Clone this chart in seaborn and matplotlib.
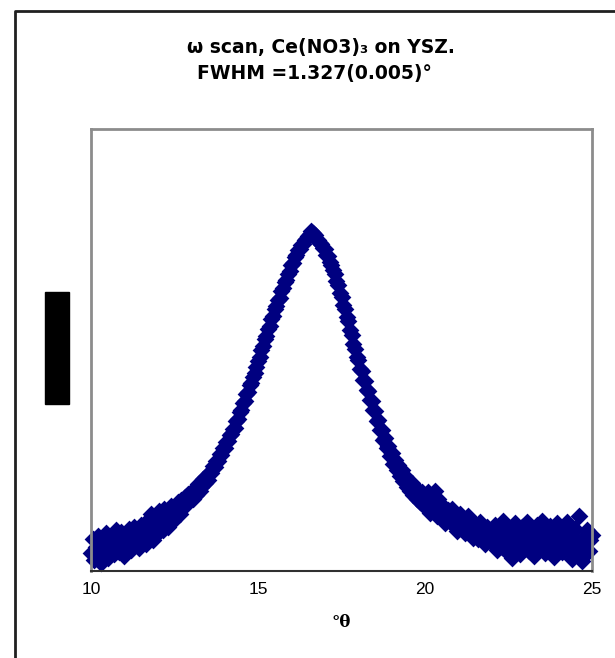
import matplotlib
matplotlib.use("Agg")
import matplotlib.pyplot as plt
import seaborn as sns
from matplotlib.patches import Rectangle
from matplotlib.lines import Line2D

# ---------------------- data ----------------------
theta = [
    10.00, 10.05, 10.10, 10.15, 10.20, 10.25, 10.30, 10.35, 10.40, 10.45,
    10.50, 10.55, 10.60, 10.65, 10.70, 10.75, 10.80, 10.85, 10.90, 10.95,
    11.00, 11.05, 11.10, 11.15, 11.20, 11.25, 11.30, 11.35, 11.40, 11.45,
    11.50, 11.55, 11.60, 11.65, 11.70, 11.75, 11.80, 11.85, 11.90, 11.95,
    12.00, 12.05, 12.10, 12.15, 12.20, 12.25, 12.30, 12.35, 12.40, 12.45,
    12.50, 12.55, 12.60, 12.65, 12.70, 12.75, 12.80, 12.85, 12.90, 12.95,
    13.00, 13.05, 13.10, 13.15, 13.20, 13.25, 13.30, 13.35, 13.40, 13.45,
    13.50, 13.55, 13.60, 13.65, 13.70, 13.75, 13.80, 13.85, 13.90, 13.95,
    14.00, 14.05, 14.10, 14.15, 14.20, 14.25, 14.30, 14.35, 14.40, 14.45,
    14.50, 14.55, 14.60, 14.65, 14.70, 14.75, 14.80, 14.85, 14.90, 14.95,
    15.00, 15.05, 15.10, 15.15, 15.20, 15.25, 15.30, 15.35, 15.40, 15.45,
    15.50, 15.55, 15.60, 15.65, 15.70, 15.75, 15.80, 15.85, 15.90, 15.95,
    16.00, 16.05, 16.10, 16.15, 16.20, 16.25, 16.30, 16.35, 16.40, 16.45,
    16.50, 16.55, 16.60, 16.65, 16.70, 16.75, 16.80, 16.85, 16.90, 16.95,
    17.00, 17.05, 17.10, 17.15, 17.20, 17.25, 17.30, 17.35, 17.40, 17.45,
    17.50, 17.55, 17.60, 17.65, 17.70, 17.75, 17.80, 17.85, 17.90, 17.95,
    18.00, 18.05, 18.10, 18.15, 18.20, 18.25, 18.30, 18.35, 18.40, 18.45,
    18.50, 18.55, 18.60, 18.65, 18.70, 18.75, 18.80, 18.85, 18.90, 18.95,
    19.00, 19.05, 19.10, 19.15, 19.20, 19.25, 19.30, 19.35, 19.40, 19.45,
    19.50, 19.55, 19.60, 19.65, 19.70, 19.75, 19.80, 19.85, 19.90, 19.95,
    20.00, 20.05, 20.10, 20.15, 20.20, 20.25, 20.30, 20.35, 20.40, 20.45,
    20.50, 20.55, 20.60, 20.65, 20.70, 20.75, 20.80, 20.85, 20.90, 20.95,
    21.00, 21.05, 21.10, 21.15, 21.20, 21.25, 21.30, 21.35, 21.40, 21.45,
    21.50, 21.55, 21.60, 21.65, 21.70, 21.75, 21.80, 21.85, 21.90, 21.95,
    22.00, 22.05, 22.10, 22.15, 22.20, 22.25, 22.30, 22.35, 22.40, 22.45,
    22.50, 22.55, 22.60, 22.65, 22.70, 22.75, 22.80, 22.85, 22.90, 22.95,
    23.00, 23.05, 23.10, 23.15, 23.20, 23.25, 23.30, 23.35, 23.40, 23.45,
    23.50, 23.55, 23.60, 23.65, 23.70, 23.75, 23.80, 23.85, 23.90, 23.95,
    24.00, 24.05, 24.10, 24.15, 24.20, 24.25, 24.30, 24.35, 24.40, 24.45,
    24.50, 24.55, 24.60, 24.65, 24.70, 24.75, 24.80, 24.85, 24.90, 24.95,
    25.00,
]
counts = [
    40, 72, 25, 55, 80, 35, 18, 60, 45, 85,
    30, 65, 50, 78, 38, 92, 55, 42, 88, 62,
    35, 80, 58, 95, 48, 70, 100, 62, 85, 52,
    105, 75, 90, 60, 115, 82, 128, 70, 98, 122,
    85, 135, 110, 92, 140, 118, 100, 132, 148, 112,
    138, 125, 155, 130, 160, 145, 168, 150, 175, 162,
    178, 162, 184, 172, 196, 182, 190, 208, 198, 215,
    206, 224, 222, 238, 235, 250, 249, 265, 263, 278,
    279, 292, 293, 307, 309, 322, 324, 339, 344, 359,
    364, 380, 385, 400, 405, 420, 426, 440, 447, 462,
    475, 484, 501, 509, 526, 532, 547, 554, 570, 577,
    593, 599, 613, 618, 634, 640, 654, 659, 673, 679,
    692, 697, 710, 715, 726, 729, 737, 740, 748, 751,
    759, 762, 770, 764, 760, 752, 750, 742, 740, 731,
    728, 716, 712, 700, 693, 680, 671, 656, 647, 630,
    620, 602, 592, 575, 565, 545, 533, 513, 502, 485,
    478, 456, 452, 431, 429, 409, 407, 386, 385, 364,
    363, 340, 341, 318, 318, 296, 300, 278, 283, 260,
    266, 243, 252, 229, 240, 215, 228, 203, 216, 190,
    206, 180, 198, 171, 191, 163, 184, 156, 178, 150,
    150, 170, 178, 132, 167, 140, 180, 125, 162, 137,
    120, 148, 108, 134, 138, 115, 141, 103, 120, 91,
    123, 129, 97, 108, 85, 117, 125, 90, 96, 74,
    106, 98, 73, 111, 82, 94, 61, 99, 84, 67,
    88, 62, 105, 48, 80, 95, 55, 112, 70, 42,
    98, 66, 30, 85, 108, 52, 75, 38, 100, 60,
    82, 110, 45, 70, 95, 35, 62, 105, 78, 50,
    112, 68, 40, 90, 58, 102, 75, 32, 88, 108,
    55, 80, 42, 98, 65, 110, 48, 85, 28, 72,
    95, 50, 125, 35, 22, 78, 60, 92, 45, 70,
    82,
]
x_ticks = [10, 15, 20, 25]

title_1 = "ω scan, Ce(NO3)₃ on YSZ."
title_2 = "FWHM =1.327(0.005)°"
x_label = "°θ"

# ---------------------- plot ----------------------
sns.set_style("white")
plt.rcParams['font.family'] = ['Liberation Sans', 'DejaVu Sans']
plt.rcParams['text.color'] = 'black'
plt.rcParams['xtick.color'] = 'black'
plt.rcParams['axes.labelcolor'] = 'black'

W, H = 615, 658
fig = plt.figure(figsize=(W / 100, H / 100), dpi=100)
ax = fig.add_axes([91 / W, 1 - 571 / H, (592 - 91) / W, (571 - 129) / H])

sns.scatterplot(x=theta, y=counts, ax=ax, marker="D", s=82,
                color="#000080", linewidth=0, clip_on=False, legend=False)

ax.set_xlim(10, 25)
ax.set_ylim(0, 1000)
ax.set_xticks(x_ticks)
ax.set_xticklabels([str(t) for t in x_ticks])
ax.set_yticks([])
ax.tick_params(axis="x", direction="out", length=4, width=1, color="#202020",
               labelsize=12.5, pad=4)
ax.set_xlabel(x_label, fontsize=12, fontweight="bold", labelpad=12,
              family=['DejaVu Serif', 'DejaVu Sans'])

for side in ["left", "top", "right"]:
    ax.spines[side].set_color("#8c8c8c")
    ax.spines[side].set_linewidth(2)
ax.spines["bottom"].set_color("#303030")
ax.spines["bottom"].set_linewidth(1.5)

fig.text(321 / W, 1 - 48 / H, title_1, ha="center", va="center",
         fontsize=13.5, fontweight="bold", family=['DejaVu Sans'])
fig.text(314 / W, 1 - 73 / H, title_2, ha="center", va="center",
         fontsize=13.5, fontweight="bold", family=['DejaVu Sans'])

# black box where the y label was
fig.patches.append(Rectangle((45 / W, 1 - 404 / H), 24 / W, 112 / H,
                             transform=fig.transFigure, color="black"))

# chart frame (left and top edges)
fig.lines.append(Line2D([15 / W, 15 / W, 1.0], [0.0, 1 - 11 / H, 1 - 11 / H],
                        transform=fig.transFigure, color="#202020", lw=2))

fig.savefig("out.png", dpi=100)
